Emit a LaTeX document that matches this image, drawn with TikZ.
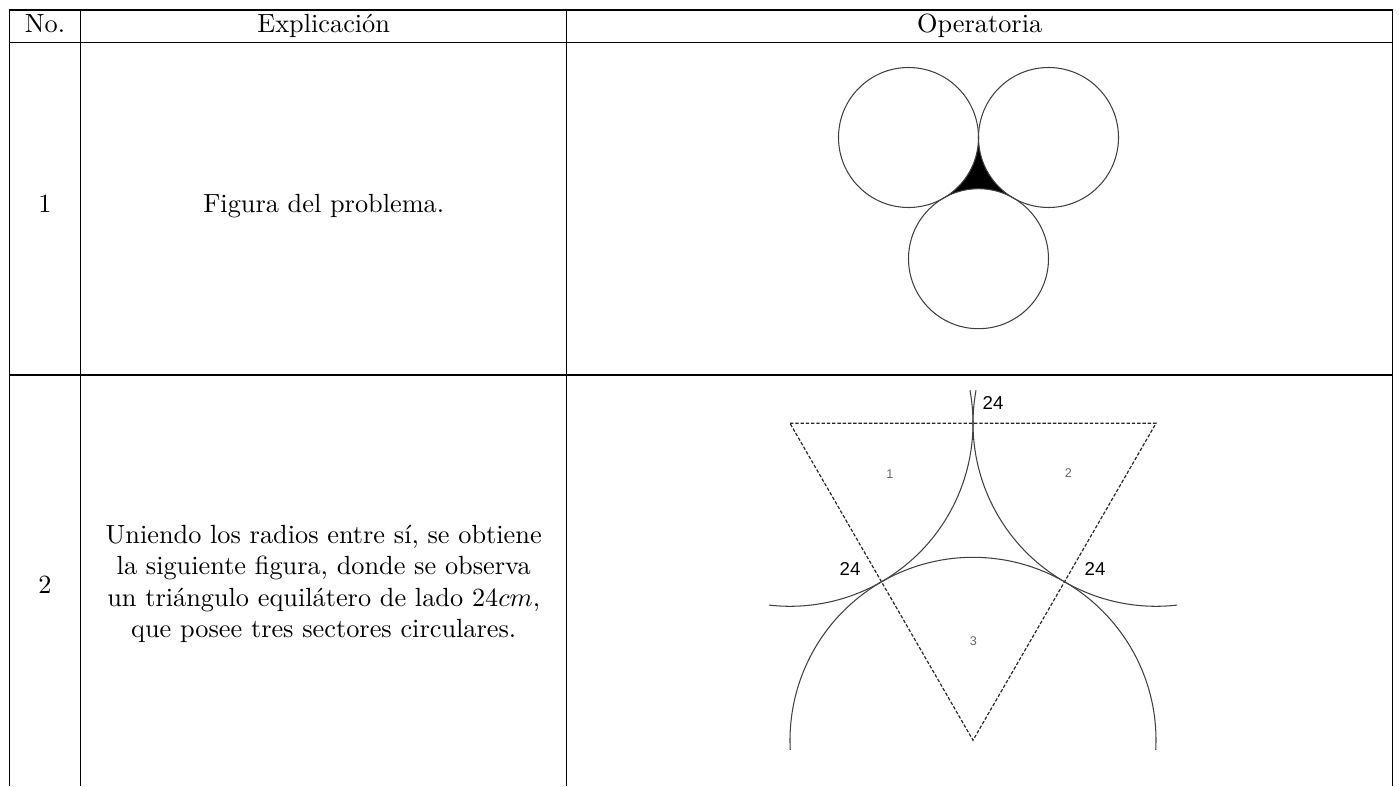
\documentclass[tikz,border=0pt]{standalone}
\usepackage{fontspec}
\newfontfamily\arialf{Liberation Sans}

\begin{document}
\begin{tikzpicture}[x=0.013366cm,y=0.013366cm,rule/.style={draw=black,line width=0.4pt},cell/.style={inner sep=0pt},circ/.style={draw=black!75,line width=0.4pt},tri/.style={draw=black!85,line width=0.45pt,dash pattern=on 1.3pt off 0.7pt},side/.style={font=\arialf\fontsize{7.1}{8}\selectfont,inner sep=0pt},sec/.style={font=\arialf\fontsize{4.8}{6}\selectfont,text=black!60,inner sep=0pt}]
\useasboundingbox (0,0) rectangle (1399,786);
% rejilla de la tabla
\draw[rule] (9.3,0) -- (9.3,776) -- (1392.7,776) -- (1392.7,0);
\draw[rule] (80.7,0) -- (80.7,776);\draw[rule] (566.7,0) -- (566.7,776);
\draw[rule] (9.3,743.3) -- (1392.7,743.3);\draw[rule] (9.3,411) -- (1392.7,411);
% encabezado
\node[cell,anchor=base] (hno) at (45,753) {No.};
\node[cell,anchor=base] (hexp) at (323.7,753) {Explicación};
\node[cell,anchor=base] (hop) at (979.7,753) {Operatoria};
% fila 1
\node[cell,anchor=base] (n1) at (45,573) {1};
\node[cell,anchor=base] (e1) at (323.7,573) {Figura del problema.};
\coordinate (P) at (908.5,648.5);\coordinate (Q) at (1048.5,648.5);\coordinate (R) at (978.5,527.3);
\fill (978.5,648.5) arc[start angle=0,end angle=-60,radius=70] arc[start angle=120,end angle=60,radius=70] arc[start angle=240,end angle=180,radius=70] -- cycle;
\draw[circ] (P) circle[radius=70];\draw[circ] (Q) circle[radius=70];\draw[circ] (R) circle[radius=70];
% fila 2
\node[cell] (n2) at (45,201) {2};
\node[cell,align=center] (e2) at (323.7,202) {Uniendo los radios entre sí, se obtiene\\la siguiente figura, donde se observa\\un triángulo equilátero de lado $24cm$,\\que posee tres sectores circulares.};
\coordinate (A) at (790,362.7);\coordinate (B) at (1156,362.7);\coordinate (C) at (973,45.7);
\draw[tri] (A) -- (B) -- (C) -- cycle;
\draw[circ] ([shift={(10.4:183)}]A) arc[start angle=10.4,end angle=-96.6,radius=183];
\draw[circ] ([shift={(169.6:183)}]B) arc[start angle=169.6,end angle=276.6,radius=183];
\draw[circ] ([shift={(-3:183)}]C) arc[start angle=-3,end angle=183,radius=183];
\node[side] (ltop) at (993,383.5) {24};
\node[side] (lleft) at (850,216.7) {24};
\node[side] (lright) at (1095,216.7) {24};
\node[sec] (s1) at (890,312) {1};
\node[sec] (s2) at (1068.3,313) {2};
\node[sec] (s3) at (973.3,145.3) {3};
\end{tikzpicture}
\end{document}
